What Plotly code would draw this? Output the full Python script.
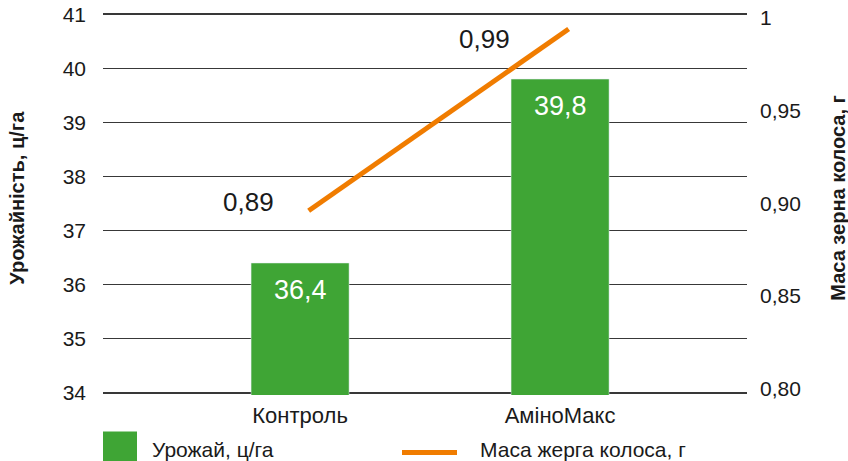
import plotly.graph_objects as go

categories = ["Контроль", "АміноМакс"]
yield_values = [36.4, 39.8]
yield_labels = ["36,4", "39,8"]
mass_values = [0.896, 0.994]
mass_labels = ["0,89", "0,99"]
left_ticks = [34, 35, 36, 37, 38, 39, 40, 41]
right_ticks = [0.80, 0.85, 0.90, 0.95, 1.0]
right_tick_labels = ["0,80", "0,85", "0,90", "0,95", "1"]
yield_name = "Урожай, ц/га"
mass_name = "Маса жерга колоса, г"

GREEN = "#3fa535"
ORANGE = "#f07c00"
FONT = "Liberation Sans, Arial, Helvetica, sans-serif"
TXT = "#1a1a1a"

# plot-area geometry (pixels)
W, H = 848, 461
L, R = 103, 747
PAD = 0.04  # y-range padding so edge gridlines are drawn
Y0, Y1 = 393.3, 14.3  # pixel of y=34 and y=41
ppu = (Y0 - Y1) / 7.0
T = Y1 - PAD * ppu
B = Y0 + PAD * ppu
PW = R - L
PH = B - T

def px(xp):
    return (xp - L) / PW

def py(yp):
    return (B - yp) / PH

# right axis: 1 -> 18px, 0.80 -> 389.3px
r_ppu = (389.3 - 18.0) / 0.2
r_top = 1.0 + (18.0 - T) / r_ppu
r_bot = 0.8 - (B - 389.3) / r_ppu

fig = go.Figure()
fig.add_trace(go.Bar(
    x=[0, 1], y=yield_values, name=yield_name, marker_color=GREEN,
    width=0.377, showlegend=False, hoverinfo="skip",
))
fig.add_trace(go.Scatter(
    x=[0, 1], y=mass_values, name=mass_name, mode="lines",
    line=dict(color=ORANGE, width=5), xaxis="x2", yaxis="y2", showlegend=False,
    hoverinfo="skip",
))

for i, (v, lab) in enumerate(zip(yield_values, yield_labels)):
    fig.add_annotation(x=i, y=v, xref="x", yref="y", text=lab, showarrow=False,
                       xanchor="center", yanchor="middle", yshift=-27,
                       font=dict(size=27, color="white", family=FONT))

xr = [-0.758, 1.719]
sh = 0.033
fig.update_layout(
    width=W, height=H,
    margin=dict(l=L, r=W - R, t=T, b=H - B, autoexpand=False),
    paper_bgcolor="white", plot_bgcolor="white",
    font=dict(family=FONT, color=TXT, size=21),
    bargap=0, showlegend=False,
    xaxis=dict(range=xr, tickmode="array", tickvals=[0, 1], ticktext=categories,
               showgrid=False, zeroline=False, showline=False, ticks="",
               tickfont=dict(size=22, color=TXT), ticklabelstandoff=5,
               automargin=False, fixedrange=True),
    xaxis2=dict(range=[xr[0] - sh, xr[1] - sh], overlaying="x", visible=False,
                automargin=False, fixedrange=True),
    yaxis=dict(range=[34 - PAD, 41 + PAD], tickvals=left_ticks, showgrid=True,
               gridcolor="#383838", gridwidth=1.5, zeroline=False, showline=False,
               ticks="", tickfont=dict(size=21, color=TXT), ticklabelstandoff=16,
               automargin=False, fixedrange=True),
    yaxis2=dict(range=[r_bot, r_top], overlaying="y", side="right",
                tickvals=right_ticks, ticktext=right_tick_labels, showgrid=False,
                zeroline=False, showline=False, ticks="",
                tickfont=dict(size=21, color=TXT), ticklabelstandoff=12,
                automargin=False, fixedrange=True),
)

shifts = [(-33, 9), (-57, -10)]
for i, (v, lab) in enumerate(zip(mass_values, mass_labels)):
    fig.add_annotation(x=i, y=v, xref="x2", yref="y2", text=lab, showarrow=False,
                       xanchor="right", yanchor="middle", xshift=shifts[i][0],
                       yshift=shifts[i][1], font=dict(size=26, color=TXT, family=FONT))

fig.add_annotation(xref="paper", yref="paper", x=px(17), y=py(198),
                   text="<b>Урожайність, ц/га</b>", textangle=-90, showarrow=False,
                   xanchor="center", yanchor="middle", font=dict(size=20, color=TXT))
fig.add_annotation(xref="paper", yref="paper", x=px(838), y=py(198),
                   text="<b>Маса зерна колоса, г</b>", textangle=-90, showarrow=False,
                   xanchor="center", yanchor="middle", font=dict(size=20, color=TXT))

# custom legend
fig.add_shape(type="rect", xref="paper", yref="paper", x0=px(103), x1=px(137),
              y0=py(432), y1=py(470), fillcolor=GREEN, line_width=0)
fig.add_annotation(xref="paper", yref="paper", x=px(150), y=py(450),
                   text=yield_name, showarrow=False, xanchor="left", yanchor="middle",
                   font=dict(size=21, color=TXT))
fig.add_shape(type="line", xref="paper", yref="paper", x0=px(402), x1=px(457),
              y0=py(453), y1=py(453), line=dict(color=ORANGE, width=5))
fig.add_annotation(xref="paper", yref="paper", x=px(478), y=py(450),
                   text=mass_name, showarrow=False, xanchor="left", yanchor="middle",
                   font=dict(size=21, color=TXT))

fig.write_html("out.html", include_plotlyjs=True,
               config={"displayModeBar": False, "staticPlot": True},
               post_script="document.body.style.margin='0';document.body.style.padding='0';document.documentElement.style.overflow='hidden';")
